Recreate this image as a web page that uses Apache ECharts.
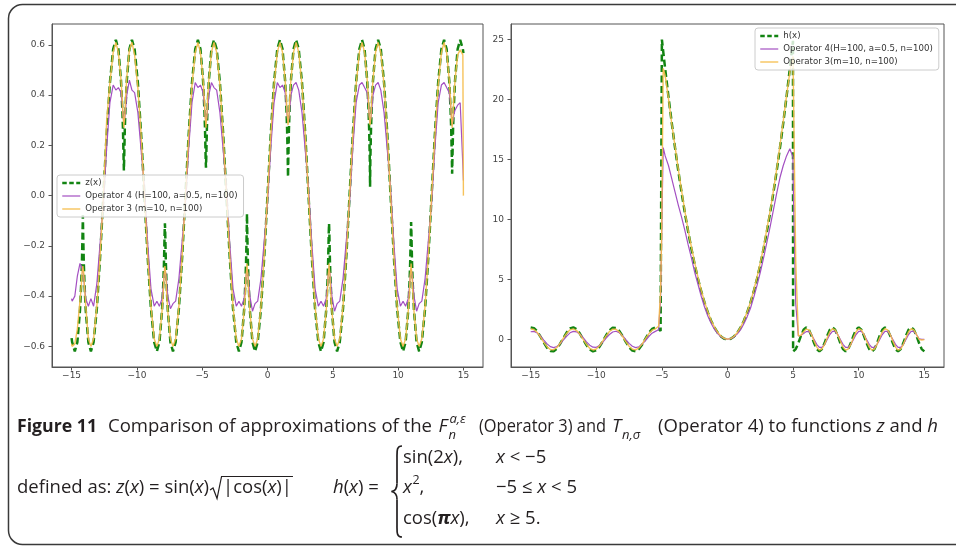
<!DOCTYPE html>
<html><head><meta charset="utf-8">
<script src="https://cdn.jsdelivr.net/npm/echarts@6/dist/echarts.min.js"></script>
<style>html,body{margin:0;padding:0;background:#fff}#c{width:956px;height:548px}</style>
</head><body><div id="c"></div>
<script>
// ---------- tick labels ----------
const xTicks = [-15, -10, -5, 0, 5, 10, 15];
const yTicksLeft = [-0.6, -0.4, -0.2, 0, 0.2, 0.4, 0.6];
const yTicksRight = [0, 5, 10, 15, 20, 25];

// ---------- legend names ----------
const namesLeft = ['z(x)', 'Operator 4 (H=100, a=0.5, n=100)', 'Operator 3 (m=10, n=100)'];
const namesRight = ['h(x)', 'Operator 4(H=100, a=0.5, n=100)', 'Operator 3(m=10, n=100)'];

// ---------- left panel: z(x) and its approximations ----------
const xLeft = [
  -15.000, -14.958, -14.753, -14.558, -14.358, -14.258, -14.208, -14.158, -14.137, -14.116, -14.066, -14.016, -13.916, -13.716, -13.521, -13.316, -13.066, -12.816,
  -12.566, -12.316, -12.066, -11.816, -11.611, -11.416, -11.216, -11.116, -11.066, -11.016, -10.996, -10.975, -10.925, -10.875, -10.775, -10.575, -10.380, -10.175, -9.925, -9.675,
  -9.425, -9.175, -8.925, -8.675, -8.470, -8.275, -8.075, -7.975, -7.925, -7.875, -7.854, -7.833, -7.783, -7.733, -7.633, -7.433, -7.238, -7.033, -6.783, -6.533,
  -6.283, -6.033, -5.783, -5.533, -5.328, -5.133, -4.933, -4.833, -4.783, -4.733, -4.712, -4.692, -4.642, -4.592, -4.492, -4.292, -4.097, -3.892, -3.642, -3.392,
  -3.142, -2.892, -2.642, -2.392, -2.187, -1.992, -1.792, -1.692, -1.642, -1.592, -1.571, -1.550, -1.500, -1.450, -1.350, -1.150, -0.955, -0.750, -0.500, -0.250,
  0.000, 0.250, 0.500, 0.750, 0.955, 1.150, 1.350, 1.450, 1.500, 1.550, 1.571, 1.592, 1.642, 1.692, 1.792, 1.992, 2.187, 2.392, 2.642, 2.892,
  3.142, 3.392, 3.642, 3.892, 4.097, 4.292, 4.492, 4.592, 4.642, 4.692, 4.712, 4.733, 4.783, 4.833, 4.933, 5.133, 5.328, 5.533, 5.783, 6.033,
  6.283, 6.533, 6.783, 7.033, 7.238, 7.433, 7.633, 7.733, 7.783, 7.833, 7.854, 7.875, 7.925, 7.975, 8.075, 8.275, 8.470, 8.675, 8.925, 9.175,
  9.425, 9.675, 9.925, 10.175, 10.380, 10.575, 10.775, 10.875, 10.925, 10.975, 10.996, 11.016, 11.066, 11.116, 11.216, 11.416, 11.611, 11.816, 12.066, 12.316,
  12.566, 12.816, 13.066, 13.316, 13.521, 13.716, 13.916, 14.016, 14.066, 14.116, 14.137, 14.158, 14.208, 14.258, 14.358, 14.558, 14.753, 14.958, 15.000
];
const zLeft = [
  -0.567, -0.583, -0.620, -0.583, -0.457, -0.345, -0.265, -0.144, -0.078, -0.144, -0.265, -0.345, -0.457, -0.583, -0.620, -0.583, -0.449, -0.244,
  0, 0.244, 0.449, 0.583, 0.620, 0.583, 0.457, 0.345, 0.265, 0.144, 0.100, 0.144, 0.265, 0.345, 0.457, 0.583, 0.620, 0.583, 0.449, 0.244,
  0, -0.244, -0.449, -0.583, -0.620, -0.583, -0.457, -0.345, -0.265, -0.144, -0.110, -0.144, -0.265, -0.345, -0.457, -0.583, -0.620, -0.583, -0.449, -0.244,
  0, 0.244, 0.449, 0.583, 0.620, 0.583, 0.457, 0.345, 0.265, 0.144, 0.111, 0.144, 0.265, 0.345, 0.457, 0.583, 0.620, 0.583, 0.449, 0.244,
  0, -0.244, -0.449, -0.583, -0.620, -0.583, -0.457, -0.345, -0.265, -0.144, -0.072, -0.144, -0.265, -0.345, -0.457, -0.583, -0.620, -0.583, -0.449, -0.244,
  0, 0.244, 0.449, 0.583, 0.620, 0.583, 0.457, 0.345, 0.265, 0.144, 0.074, 0.144, 0.265, 0.345, 0.457, 0.583, 0.620, 0.583, 0.449, 0.244,
  0, -0.244, -0.449, -0.583, -0.620, -0.583, -0.457, -0.345, -0.265, -0.144, -0.111, -0.144, -0.265, -0.345, -0.457, -0.583, -0.620, -0.583, -0.449, -0.244,
  0, 0.244, 0.449, 0.583, 0.620, 0.583, 0.457, 0.345, 0.265, 0.144, 0.035, 0.144, 0.265, 0.345, 0.457, 0.583, 0.620, 0.583, 0.449, 0.244,
  0, -0.244, -0.449, -0.583, -0.620, -0.583, -0.457, -0.345, -0.265, -0.144, -0.105, -0.144, -0.265, -0.345, -0.457, -0.583, -0.620, -0.583, -0.449, -0.244,
  0, 0.244, 0.449, 0.583, 0.620, 0.583, 0.457, 0.345, 0.265, 0.144, 0.087, 0.144, 0.265, 0.345, 0.457, 0.583, 0.620, 0.583, 0.567
];
const op4Left = [
  -0.41, -0.42, -0.40, -0.32, -0.27, -0.28, -0.29, -0.30, -0.30, -0.31, -0.33, -0.36, -0.41, -0.44, -0.41, -0.44, -0.35, -0.19,
  -0.03, 0.19, 0.37, 0.44, 0.42, 0.43, 0.41, 0.36, 0.32, 0.30, 0.29, 0.30, 0.31, 0.34, 0.40, 0.46, 0.42, 0.41, 0.33, 0.18,
  0.03, -0.19, -0.37, -0.44, -0.42, -0.44, -0.41, -0.36, -0.32, -0.30, -0.29, -0.30, -0.31, -0.34, -0.40, -0.45, -0.43, -0.42, -0.33, -0.18,
  -0.03, 0.19, 0.37, 0.45, 0.43, 0.44, 0.41, 0.36, 0.32, 0.30, 0.29, 0.30, 0.31, 0.34, 0.40, 0.45, 0.43, 0.42, 0.33, 0.18,
  0.03, -0.19, -0.37, -0.44, -0.42, -0.44, -0.41, -0.36, -0.32, -0.30, -0.29, -0.30, -0.31, -0.34, -0.40, -0.46, -0.43, -0.42, -0.33, -0.18,
  -0.03, 0.19, 0.37, 0.45, 0.43, 0.44, 0.41, 0.36, 0.32, 0.30, 0.29, 0.30, 0.31, 0.34, 0.40, 0.44, 0.45, 0.42, 0.33, 0.18,
  0.03, -0.19, -0.37, -0.44, -0.42, -0.44, -0.41, -0.36, -0.32, -0.30, -0.29, -0.30, -0.31, -0.34, -0.40, -0.46, -0.43, -0.42, -0.33, -0.18,
  -0.03, 0.19, 0.37, 0.44, 0.45, 0.43, 0.41, 0.36, 0.32, 0.30, 0.29, 0.30, 0.31, 0.34, 0.40, 0.44, 0.45, 0.42, 0.33, 0.18,
  0.03, -0.19, -0.37, -0.44, -0.42, -0.44, -0.41, -0.36, -0.32, -0.30, -0.29, -0.30, -0.31, -0.34, -0.40, -0.46, -0.43, -0.42, -0.33, -0.18,
  -0.03, 0.19, 0.37, 0.44, 0.45, 0.43, 0.41, 0.36, 0.32, 0.30, 0.28, 0.29, 0.30, 0.32, 0.34, 0.36, 0.37, 0.12, 0.06
];
const op3Left = [
  -0.59, -0.60, -0.59, -0.53, -0.42, -0.36, -0.31, -0.29, -0.28, -0.29, -0.31, -0.36, -0.44, -0.57, -0.60, -0.57, -0.44, -0.24,
  0, 0.30, 0.45, 0.57, 0.61, 0.57, 0.46, 0.38, 0.32, 0.29, 0.27, 0.29, 0.32, 0.38, 0.47, 0.58, 0.61, 0.56, 0.43, 0.24,
  0, -0.24, -0.44, -0.57, -0.60, -0.57, -0.46, -0.38, -0.32, -0.29, -0.28, -0.29, -0.32, -0.38, -0.46, -0.57, -0.60, -0.57, -0.44, -0.24,
  0, 0.24, 0.44, 0.57, 0.61, 0.57, 0.46, 0.38, 0.32, 0.29, 0.27, 0.29, 0.32, 0.38, 0.46, 0.57, 0.61, 0.57, 0.44, 0.24,
  0, -0.24, -0.44, -0.57, -0.60, -0.57, -0.46, -0.38, -0.32, -0.29, -0.27, -0.29, -0.32, -0.38, -0.46, -0.57, -0.60, -0.57, -0.44, -0.24,
  0, 0.24, 0.44, 0.57, 0.61, 0.57, 0.46, 0.38, 0.33, 0.30, 0.28, 0.29, 0.32, 0.38, 0.46, 0.57, 0.61, 0.57, 0.44, 0.24,
  0, -0.24, -0.44, -0.57, -0.60, -0.57, -0.46, -0.38, -0.32, -0.29, -0.27, -0.29, -0.32, -0.38, -0.46, -0.57, -0.60, -0.57, -0.44, -0.24,
  0, 0.24, 0.44, 0.57, 0.61, 0.57, 0.46, 0.38, 0.32, 0.29, 0.28, 0.29, 0.32, 0.38, 0.46, 0.57, 0.61, 0.57, 0.44, 0.24,
  0, -0.24, -0.44, -0.57, -0.60, -0.57, -0.46, -0.38, -0.32, -0.29, -0.27, -0.29, -0.32, -0.38, -0.46, -0.57, -0.60, -0.57, -0.44, -0.24,
  0, 0.24, 0.44, 0.57, 0.61, 0.57, 0.46, 0.38, 0.32, 0.29, 0.27, 0.29, 0.32, 0.38, 0.46, 0.56, 0.58, 0.56, 0.00
];

// ---------- right panel: h(x) and its approximations ----------
const xRight = [
  -15, -14.75, -14.5, -14.25, -14, -13.75, -13.5, -13.25, -13, -12.75,
  -12.5, -12.25, -12, -11.75, -11.5, -11.25, -11, -10.75, -10.5, -10.25,
  -10, -9.75, -9.5, -9.25, -9, -8.75, -8.5, -8.25, -8, -7.75,
  -7.5, -7.25, -7, -6.75, -6.5, -6.25, -6, -5.75, -5.5, -5.25,
  -5.1, -5.02, -5, -4.9, -4.75, -4.5, -4.25, -4, -3.75, -3.5,
  -3.25, -3, -2.75, -2.5, -2.25, -2, -1.75, -1.5, -1.25, -1,
  -0.75, -0.5, -0.25, 0, 0.25, 0.5, 0.75, 1, 1.25, 1.5,
  1.75, 2, 2.25, 2.5, 2.75, 3, 3.25, 3.5, 3.75, 4,
  4.25, 4.5, 4.75, 4.9, 4.99,
  5, 5.2, 5.4, 5.6, 5.8, 6, 6.2, 6.4, 6.6, 6.8, 7,
  7.2, 7.4, 7.6, 7.8, 8, 8.2, 8.4, 8.6, 8.8, 9,
  9.2, 9.4, 9.6, 9.8, 10, 10.2, 10.4, 10.6, 10.8, 11,
  11.2, 11.4, 11.6, 11.8, 12, 12.2, 12.4, 12.6, 12.8, 13,
  13.2, 13.4, 13.6, 13.8, 14, 14.2, 14.4, 14.6, 14.8, 15
];
const hRight = [
  0.988, 0.941, 0.664, 0.224, -0.271, -0.699, -0.956, -0.979, -0.762, -0.359,
  0.132, 0.591, 0.906, 0.998, 0.846, 0.487, 0.009, -0.472, -0.837, -0.997,
  -0.913, -0.606, -0.150, 0.342, 0.751, 0.976, 0.961, 0.712, 0.288, -0.206,
  -0.650, -0.935, -0.991, -0.804, -0.420, 0.066, 0.537, 0.876, 1.000, 0.880,
  0.700, 0.577, 25, 24.01, 22.56, 20.25, 18.06, 16, 14.06, 12.25,
  10.56, 9, 7.56, 6.25, 5.06, 4, 3.06, 2.25, 1.56, 1,
  0.56, 0.25, 0.06, 0, 0.06, 0.25, 0.56, 1, 1.56, 2.25,
  3.06, 4, 5.06, 6.25, 7.56, 9, 10.56, 12.25, 14.06, 16,
  18.06, 20.25, 22.56, 24.01, 24.9,
  -1, -0.809, -0.309, 0.309, 0.809, 1, 0.809, 0.309, -0.309, -0.809, -1,
  -0.809, -0.309, 0.309, 0.809, 1, 0.809, 0.309, -0.309, -0.809, -1,
  -0.809, -0.309, 0.309, 0.809, 1, 0.809, 0.309, -0.309, -0.809, -1,
  -0.809, -0.309, 0.309, 0.809, 1, 0.809, 0.309, -0.309, -0.809, -1,
  -0.809, -0.309, 0.309, 0.809, 1, 0.809, 0.309, -0.309, -0.809, -1
];
const op4Right = [
  0.64, 0.67, 0.54, 0.28, -0.05, -0.37, -0.60, -0.68, -0.59, -0.36,
  -0.04, 0.28, 0.55, 0.67, 0.63, 0.44, 0.14, -0.20, -0.48, -0.65,
  -0.66, -0.51, -0.23, 0.10, 0.41, 0.62, 0.68, 0.57, 0.32, -0.01,
  -0.33, -0.57, -0.68, -0.61, -0.40, -0.09, 0.24, 0.52, 0.67, 0.80,
  3.5, 8.4, 10.0, 16.0, 15.3, 14.5, 13.4, 12.3, 11.2, 10.2,
  9.1, 7.9, 6.8, 5.6, 4.6, 3.6, 2.7, 1.95, 1.35, 0.85,
  0.48, 0.22, 0.07, 0.02, 0.06, 0.21, 0.46, 0.82, 1.3, 1.9,
  2.6, 3.5, 4.5, 5.6, 6.8, 8.1, 9.4, 10.8, 12.2, 13.5,
  14.5, 15.3, 15.9, 16.0, 15.2,
  13.5, 3.0, 0.30, 0.35, 0.50, 0.65, 0.67, 0.41, 0.00, -0.41, -0.67,
  -0.67, -0.41, 0.00, 0.41, 0.67, 0.67, 0.41, 0.00, -0.41, -0.67,
  -0.67, -0.41, 0.00, 0.41, 0.67, 0.67, 0.41, 0.00, -0.41, -0.67,
  -0.67, -0.41, 0.00, 0.41, 0.67, 0.67, 0.41, 0.00, -0.41, -0.67,
  -0.67, -0.41, 0.00, 0.41, 0.67, 0.67, 0.41, 0.05, 0.00, 0.00
];
const op3Right = [
  0.87, 0.83, 0.58, 0.20, -0.24, -0.62, -0.84, -0.86, -0.67, -0.32,
  0.12, 0.52, 0.80, 0.88, 0.74, 0.43, 0.01, -0.42, -0.74, -0.88,
  -0.80, -0.53, -0.13, 0.30, 0.66, 0.86, 0.85, 0.63, 0.25, -0.18,
  -0.57, -0.82, -0.87, -0.71, -0.37, 0.06, 0.47, 0.77, 0.88, 1.10,
  4.0, 8.6, 11.0, 22.6, 22.0, 20.1, 18.0, 16.1, 14.2, 12.4,
  10.7, 9.1, 7.7, 6.4, 5.2, 4.1, 3.15, 2.3, 1.6, 1.05,
  0.60, 0.28, 0.08, 0.02, 0.07, 0.26, 0.58, 1.02, 1.6, 2.3,
  3.1, 4.1, 5.2, 6.4, 7.7, 9.2, 10.7, 12.4, 14.2, 16.2,
  18.2, 20.3, 22.3, 23.2, 23.6,
  22.8, 6.5, 0.30, 0.35, 0.64, 0.86, 0.80, 0.41, -0.14, -0.64, -0.89,
  -0.80, -0.41, 0.14, 0.64, 0.89, 0.80, 0.41, -0.14, -0.64, -0.89,
  -0.80, -0.41, 0.14, 0.64, 0.89, 0.80, 0.41, -0.14, -0.64, -0.89,
  -0.80, -0.41, 0.14, 0.64, 0.89, 0.80, 0.41, -0.14, -0.64, -0.89,
  -0.80, -0.41, 0.14, 0.64, 0.89, 0.80, 0.41, 0.00, -0.05, -0.02
];

// ---------- chart ----------
const chart = echarts.init(document.getElementById('c'), null, { renderer: 'canvas' });
const pair = (xs, ys) => xs.map((x, i) => [x, ys[i]]);
const GREEN = '#128412', PURPLE = '#a34fc2', YELLOW = '#f5bb48';
const AXC = '#555';
const GREEN_W = 2.5, GREEN_DASH = [7, 3.5];
const minus = s => String(s).replace('-', '\u2212');
const fmtX = v => minus(v);
const fmtYL = v => minus((Math.abs(v) < 1e-9 ? 0 : v).toFixed(1));
const fmtYR = v => String(v);
const labelStyle = { fontSize: 9, color: '#444', fontFamily: 'DejaVu Sans' };

function xAxisCfg(gi) {
  return {
    type: 'value', gridIndex: gi, min: -16.5, max: 16.5,
    axisLine: { show: true, onZero: false, lineStyle: { color: AXC, width: 1 } },
    axisTick: { show: true, length: 3.5, customValues: xTicks, lineStyle: { color: AXC } },
    axisLabel: Object.assign({ customValues: xTicks, formatter: fmtX, margin: 4 }, labelStyle),
    splitLine: { show: false }
  };
}
function yAxisCfg(gi, min, max, ticks, fmt) {
  return {
    type: 'value', gridIndex: gi, min: min, max: max,
    axisLine: { show: true, onZero: false, lineStyle: { color: AXC, width: 1 } },
    axisTick: { show: true, length: 3.5, customValues: ticks, lineStyle: { color: AXC } },
    axisLabel: Object.assign({ customValues: ticks, formatter: fmt, margin: 7 }, labelStyle),
    splitLine: { show: false }
  };
}
function lineSeries(name, xi, xs, ys, color, width, type, opacity, z) {
  return {
    type: 'line', name: name, xAxisIndex: xi, yAxisIndex: xi,
    data: pair(xs, ys), symbol: 'none', showSymbol: false, smooth: false,
    lineStyle: { color: color, width: width, type: type, opacity: opacity },
    itemStyle: { color: color }, z: z, silent: true, animation: false
  };
}
function legendCfg(names, left, top) {
  const styles = [
    { color: GREEN, width: GREEN_W, type: [4.5, 2.5], opacity: 1 },
    { color: PURPLE, width: 1.2, type: 'solid', opacity: 1 },
    { color: YELLOW, width: 1.4, type: 'solid', opacity: 0.9 }
  ];
  return {
    data: names.map((n, i) => ({ name: n, lineStyle: styles[i], itemStyle: { opacity: 0, borderWidth: 0 } })),
    orient: 'vertical', left: left, top: top,
    itemWidth: 18, itemHeight: 10, itemGap: 3, padding: [3, 6, 3, 4],
    itemStyle: { opacity: 0, borderWidth: 0 },
    backgroundColor: 'rgba(255,255,255,0.8)', borderColor: '#cccccc', borderWidth: 1, borderRadius: 3,
    textStyle: { fontSize: 8.6, fontFamily: 'DejaVu Sans', color: '#333', lineHeight: 10 },
    selectedMode: false, z: 10
  };
}

// ---------- caption (graphic text) ----------
const mctx = document.createElement('canvas').getContext('2d');
function measure(t, f) { mctx.font = f; return mctx.measureText(t).width; }
const FAM = '"Open Sans", "DejaVu Sans", sans-serif';
const N = '18.5px ' + FAM, I = 'italic 18.5px ' + FAM, B = 'bold 18.5px ' + FAM;
const SI = 'italic 13px ' + FAM, S = '12.5px ' + FAM, BI = 'italic bold 18.5px ' + FAM;
const TXT = '#231f20';
const G = [];
function runs(x0, x1, y, pieces) {
  const ws = pieces.map(p => measure(p[0], p[1]));
  const W = ws.reduce((a, b) => a + b, 0);
  const s = (x1 == null) ? 1 : (x1 - x0) / W;
  let cx = x0;
  pieces.forEach((p, i) => {
    G.push({ type: 'text', x: cx, y: y, scaleX: s, silent: true,
      style: { text: p[0], font: p[1], fill: TXT, align: 'left', verticalAlign: 'middle',
               textAlign: 'left', textVerticalAlign: 'middle' } });
    cx += ws[i] * s;
  });
  return cx;
}
function bez(x1, y1, c1x, c1y, c2x, c2y, x2, y2) {
  G.push({ type: 'bezierCurve', silent: true,
    shape: { x1: x1, y1: y1, cpx1: c1x, cpy1: c1y, cpx2: c2x, cpy2: c2y, x2: x2, y2: y2 },
    style: { stroke: TXT, lineWidth: 1.7, fill: null } });
}
function seg(x1, y1, x2, y2, w) {
  G.push({ type: 'line', silent: true, shape: { x1: x1, y1: y1, x2: x2, y2: y2 },
    style: { stroke: TXT, lineWidth: w || 1.7 } });
}
// frame
G.push({ type: 'rect', silent: true, shape: { x: 8.5, y: 4.5, width: 990, height: 540, r: 14 },
         style: { fill: 'none', stroke: '#3a3a3a', lineWidth: 1.5 } });
// line 1
runs(17, 97, 427, [['Figure 11', B]]);
runs(108, 432, 427, [['Comparison of approximations of the', N]]);
runs(438.5, null, 427, [['F', I]]);
runs(449.5, null, 419, [['a,\u03b5', SI]]);
runs(448.5, null, 435, [['n', SI]]);
runs(479, 606, 427, [['(Operator 3) and', N]]);
runs(612, null, 427, [['T', I]]);
runs(622, null, 435, [['n,\u03c3', SI]]);
runs(658, 938, 427, [['(Operator 4) to functions ', N], ['z', I], [' and ', N], ['h', I]]);
// line 2
const e1 = runs(17, null, 488, [['defined as: ', N], ['z', I], ['(', N], ['x', I], [') = sin(', N], ['x', I], [')', N]]);
const r0 = e1 + 1;
const e2 = runs(r0 + 13, null, 488, [['|cos(', N], ['x', I], [')|', N]]);
G.push({ type: 'polyline', silent: true,
  shape: { points: [[r0, 490], [r0 + 3, 488], [r0 + 7, 498.5], [r0 + 11.5, 476.5], [e2 + 1, 476.5]] },
  style: { stroke: TXT, lineWidth: 1.2, fill: null } });
runs(333, null, 488, [['h', I], ['(', N], ['x', I], [') =', N]]);
// curly brace
bez(402, 446, 396.5, 446, 397, 451, 397, 457);
seg(397, 457, 397, 483.5);
bez(397, 483.5, 397, 489, 395, 491, 391.5, 491.5);
bez(391.5, 491.5, 395, 492, 397, 494, 397, 499.5);
seg(397, 499.5, 397, 526);
bez(397, 526, 397, 532, 396.5, 537, 402, 537);
// cases
runs(403, null, 458, [['sin(2', N], ['x', I], ['),', N]]);
runs(496, null, 458, [['x', I], [' < \u22125', N]]);
let e3 = runs(403, null, 488, [['x', I]]);
e3 = runs(e3 + 0.5, null, 480, [['2', S]]);
runs(e3, null, 488, [[',', N]]);
runs(496, null, 488, [['\u22125 \u2264 ', N], ['x', I], [' < 5', N]]);
runs(403, null, 519, [['cos(', N], ['\u03c0', BI], ['x', I], ['),', N]]);
runs(496, null, 519, [['x', I], [' \u2265 5.', N]]);

const option = {
  animation: false,
  backgroundColor: '#ffffff',
  grid: [
    { left: 52, top: 24, width: 431, height: 343, show: true, borderColor: AXC, borderWidth: 1, backgroundColor: 'transparent', outerBoundsMode: 'none', containLabel: false },
    { left: 511, top: 24, width: 433, height: 343, show: true, borderColor: AXC, borderWidth: 1, backgroundColor: 'transparent', outerBoundsMode: 'none', containLabel: false }
  ],
  xAxis: [xAxisCfg(0), xAxisCfg(1)],
  yAxis: [
    yAxisCfg(0, -0.682, 0.683, yTicksLeft, fmtYL),
    yAxisCfg(1, -2.3, 26.3, yTicksRight, fmtYR)
  ],
  legend: [legendCfg(namesLeft, 57, 175), legendCfg(namesRight, 755, 28)],
  series: [
    lineSeries(namesLeft[0], 0, xLeft, zLeft, GREEN, GREEN_W, GREEN_DASH, 1, 2),
    lineSeries(namesLeft[1], 0, xLeft, op4Left, PURPLE, 1.2, 'solid', 1, 3),
    lineSeries(namesLeft[2], 0, xLeft, op3Left, YELLOW, 1.4, 'solid', 0.9, 4),
    lineSeries(namesRight[0], 1, xRight, hRight, GREEN, GREEN_W, GREEN_DASH, 1, 2),
    lineSeries(namesRight[1], 1, xRight, op4Right, PURPLE, 1.2, 'solid', 1, 3),
    lineSeries(namesRight[2], 1, xRight, op3Right, YELLOW, 1.4, 'solid', 0.9, 4)
  ],
  graphic: { elements: G }
};
chart.setOption(option);
</script></body></html>
